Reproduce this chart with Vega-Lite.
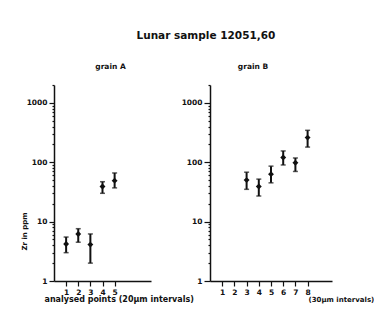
{
  "$schema": "https://vega.github.io/schema/vega-lite/v6.json",
  "padding": {"left": 20, "top": 31, "right": 0, "bottom": 0},
  "bounds": "flush",
  "spacing": 59,
  "background": "white",
  "title": {"text": "Lunar sample 12051,60", "font": "DejaVu Sans", "fontWeight": "bold", "fontSize": 10.5, "color": "#111", "anchor": "middle", "offset": 21, "dx": 9},
  "data": {"values": [
    {"grain": "A", "point": 1, "value": 4.2, "lo": 3, "hi": 5.5},
    {"grain": "A", "point": 2, "value": 6.2, "lo": 4.5, "hi": 7.6},
    {"grain": "A", "point": 3, "value": 4.1, "lo": 2, "hi": 6.2},
    {"grain": "A", "point": 4, "value": 39, "lo": 30, "hi": 47},
    {"grain": "A", "point": 5, "value": 49, "lo": 37, "hi": 66},
    {"grain": "B", "point": 3, "value": 50, "lo": 35, "hi": 68},
    {"grain": "B", "point": 4, "value": 39, "lo": 27, "hi": 52},
    {"grain": "B", "point": 5, "value": 63, "lo": 45, "hi": 86},
    {"grain": "B", "point": 6, "value": 120, "lo": 90, "hi": 155},
    {"grain": "B", "point": 7, "value": 98, "lo": 70, "hi": 118},
    {"grain": "B", "point": 8, "value": 260, "lo": 180, "hi": 345}
  ]},
  "hconcat": [
    {
      "width": 97, "height": 196,
      "title": {"text": "grain A", "font": "DejaVu Sans", "fontWeight": "bold", "fontSize": 7.5, "color": "#111", "anchor": "middle", "offset": 14, "dx": 8},
      "transform": [{"filter": "datum.grain == 'A'"}],
      "encoding": {
        "x": {"field": "point", "type": "quantitative", "scale": {"domain": [0, 8], "nice": false},
          "axis": {"values": [1, 2, 3, 4, 5], "format": "d", "title": "analysed points (20\u00b5m intervals)", "titleAnchor": "start", "titleX": -10, "titleAlign": "left", "titlePadding": 0, "titleFontSize": 8}},
        "y": {"field": "value", "type": "quantitative", "scale": {"type": "log", "domain": [1, 2000], "nice": false},
          "axis": {"values": [1,2,3,4,5,6,7,8,9,10,20,30,40,50,60,70,80,90,100,200,300,400,500,600,700,800,900,1000,2000],
            "labelExpr": "indexof([1,10,100,1000], datum.value) >= 0 ? format(datum.value, 'd') : ''",
            "tickSize": {"condition": {"test": "indexof([1,10,100,1000], datum.value) >= 0", "value": 5}, "value": 2},
            "title": "Zr in ppm", "titleX": -27, "titleY": 146}}
      },
      "layer": [
        {"mark": {"type": "rule", "strokeWidth": 2, "color": "#111"}, "encoding": {"y": {"field": "lo", "type": "quantitative"}, "y2": {"field": "hi"}}},
        {"mark": {"type": "tick", "orient": "horizontal", "size": 5, "thickness": 1.5, "color": "#111"}, "encoding": {"y": {"field": "hi", "type": "quantitative"}}},
        {"mark": {"type": "tick", "orient": "horizontal", "size": 5, "thickness": 1.5, "color": "#111"}, "encoding": {"y": {"field": "lo", "type": "quantitative"}}},
        {"mark": {"type": "point", "shape": "diamond", "filled": true, "size": 35, "color": "#111", "opacity": 1}}
      ]
    },
    {
      "width": 122, "height": 196,
      "title": {"text": "grain B", "font": "DejaVu Sans", "fontWeight": "bold", "fontSize": 7.5, "color": "#111", "anchor": "middle", "offset": 14, "dx": -18},
      "transform": [{"filter": "datum.grain == 'B'"}],
      "encoding": {
        "x": {"field": "point", "type": "quantitative", "scale": {"domain": [0, 10], "nice": false},
          "axis": {"values": [1, 2, 3, 4, 5, 6, 7, 8], "format": "d", "title": "(30\u00b5m intervals)", "titleAnchor": "start", "titleX": 98, "titleAlign": "left", "titlePadding": 0, "titleFontSize": 7}},
        "y": {"field": "value", "type": "quantitative", "scale": {"type": "log", "domain": [1, 2000], "nice": false},
          "axis": {"values": [1,2,3,4,5,6,7,8,9,10,20,30,40,50,60,70,80,90,100,200,300,400,500,600,700,800,900,1000,2000],
            "labelExpr": "indexof([1,10,100,1000], datum.value) >= 0 ? format(datum.value, 'd') : ''",
            "tickSize": {"condition": {"test": "indexof([1,10,100,1000], datum.value) >= 0", "value": 6}, "value": 2},
            "title": null}}
      },
      "layer": [
        {"mark": {"type": "rule", "strokeWidth": 2, "color": "#111"}, "encoding": {"y": {"field": "lo", "type": "quantitative"}, "y2": {"field": "hi"}}},
        {"mark": {"type": "tick", "orient": "horizontal", "size": 5, "thickness": 1.5, "color": "#111"}, "encoding": {"y": {"field": "hi", "type": "quantitative"}}},
        {"mark": {"type": "tick", "orient": "horizontal", "size": 5, "thickness": 1.5, "color": "#111"}, "encoding": {"y": {"field": "lo", "type": "quantitative"}}},
        {"mark": {"type": "point", "shape": "diamond", "filled": true, "size": 35, "color": "#111", "opacity": 1}}
      ]
    }
  ],
  "config": {
    "view": {"stroke": null},
    "axis": {"grid": false, "domainColor": "#111", "domainWidth": 1.5, "tickColor": "#111", "tickWidth": 1.2, "tickSize": 5,
      "labelFont": "DejaVu Sans", "labelFontWeight": "bold", "labelFontSize": 7.5, "labelColor": "#111", "labelPadding": 2,
      "titleFont": "DejaVu Sans", "titleFontWeight": "bold", "titleFontSize": 7, "titleColor": "#111"}
  }
}
